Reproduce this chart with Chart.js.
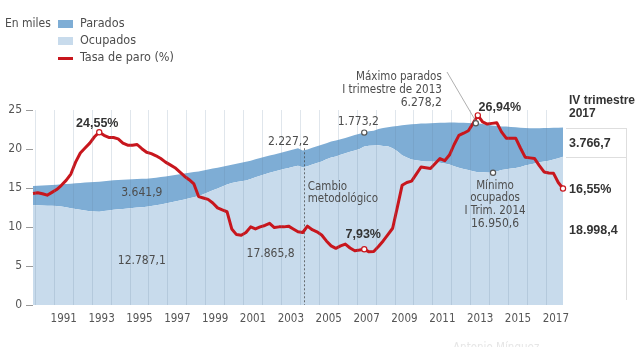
<!DOCTYPE html>
<html lang="es">
<head>
<meta charset="utf-8">
<title>Parados, ocupados y tasa de paro</title>
<script src="https://cdn.jsdelivr.net/npm/chart.js@4.4.1/dist/chart.umd.min.js"></script>
<style>
  html, body { margin: 0; padding: 0; background: #fff; }
  #wrap { position: relative; width: 640px; height: 347px; }
</style>
</head>
<body>
<div id="wrap"><canvas id="paroChart"></canvas></div>
<script>
// serie trimestral, empieza en IV trimestre 1989 (miles de personas)
const startYear = 1989;
const startQuarter = 4;

const ocupados = [
  12787.1, 12780, 12760, 12740, 12720, 12690, 12620, 12520, 12400, 12300,
  12200, 12100, 12030, 11980, 11960, 12050, 12130, 12200, 12260, 12320,
  12380, 12430, 12490, 12540, 12600, 12680, 12780, 12900, 13020, 13140,
  13270, 13400, 13540, 13680, 13810, 13980, 14200, 14450, 14700, 14950,
  15200, 15450, 15640, 15760, 15870, 15970, 16150, 16370, 16580, 16770,
  16940, 17100, 17270, 17430, 17580, 17730, 17865.8, 17650, 17780, 18000,
  18200, 18400, 18700, 18900, 19050, 19250, 19450, 19650, 19800, 20000,
  20330, 20410, 20450, 20480, 20400, 20350, 20100, 19700, 19200, 18900,
  18650, 18550, 18450, 18400, 18400, 18350, 18250, 18150, 18000, 17800,
  17600, 17450, 17300, 17150, 17030, 17010, 16980, 16950.6, 17100, 17300,
  17400, 17500, 17550, 17700, 17870, 18000, 18150, 18300, 18400, 18500,
  18650, 18800, 18998.4
];

const parados = [
  2463, 2500, 2560, 2620, 2680, 2740, 2850, 2990, 3150, 3300,
  3450, 3600, 3700, 3780, 3840, 3810, 3790, 3780, 3760, 3730,
  3700, 3680, 3650, 3641.9, 3600, 3580, 3550, 3500, 3450, 3420,
  3390, 3360, 3310, 3270, 3230, 3150, 3040, 2930, 2790, 2650,
  2530, 2410, 2340, 2360, 2380, 2400, 2350, 2310, 2270, 2250,
  2230, 2200, 2190, 2190, 2200, 2200, 2227.2, 2150, 2170, 2150,
  2150, 2150, 2050, 2050, 2050, 2000, 1950, 1950, 1980, 1950,
  1773.2, 1850, 1900, 2070, 2300, 2450, 2780, 3260, 3850, 4200,
  4530, 4670, 4810, 4880, 4900, 4980, 5110, 5230, 5400, 5600,
  5780, 5910, 6030, 6160, 6278.2, 6190, 6120, 6070, 5850, 5600,
  5470, 5330, 5230, 5030, 4810, 4660, 4500, 4360, 4280, 4200,
  4070, 3940, 3766.7
];

const tasaParo = [
  15.85, 15.95, 15.8, 15.6, 16.0, 16.4, 17.0, 17.7, 18.6, 20.3,
  21.6, 22.3, 23.0, 23.9, 24.55, 24.1, 23.8, 23.8, 23.6, 23.0,
  22.7, 22.7, 22.8, 22.2, 21.7, 21.5, 21.2, 20.8, 20.3, 19.9,
  19.5, 18.9, 18.3, 17.8, 17.2, 15.4, 15.2, 15.0, 14.5, 13.8,
  13.5, 13.25, 10.8, 10.0, 9.9, 10.3, 11.1, 10.8, 11.1, 11.3,
  11.6, 11.0, 11.1, 11.1, 11.2, 10.8, 10.4, 10.3, 11.2, 10.7,
  10.4, 9.95, 9.1, 8.4, 8.05, 8.4, 8.66, 8.1, 7.7, 7.8,
  7.93, 7.55, 7.6, 8.3, 9.1, 10.0, 10.9, 13.9, 17.0, 17.4,
  17.6, 18.6, 19.6, 19.5, 19.4, 20.1, 20.8, 20.5, 21.3, 22.8,
  24.1, 24.4, 24.75, 25.8, 26.94, 26.0, 25.7, 25.8, 25.9, 24.6,
  23.7, 23.7, 23.7, 22.3, 21.0, 20.9, 20.8, 19.8, 18.9, 18.75,
  18.7, 17.4, 16.55
];

const aniosEtiqueta = [1991, 1993, 1995, 1997, 1999, 2001, 2003, 2005, 2007, 2009, 2011, 2013, 2015, 2017];

// puntos destacados (posicion en la serie)
const iMaxTasa90 = 14;
const iCambio = 57;
const iMinParo = 70;
const iMaxParo = 94;
const iMinOcup = 97;

const trimestres = [];
for (let i = 0; i < ocupados.length; i++) {
  const k = startQuarter - 1 + i;
  trimestres.push({ anio: startYear + Math.floor(k / 4), q: (k % 4) + 1 });
}
const last = ocupados.length - 1;

const AZUL_OSC = "#7eadd5";
const AZUL_CLA = "#c8dbec";
const ROJO = "#c8161d";
const FONT_N = "'DejaVu Sans Condensed', 'Liberation Sans Narrow', Roboto, sans-serif";
const FONT_B = "'Liberation Sans', Arial, sans-serif";

function fmt(v, d) {
  return v.toFixed(d).replace(".", ",").replace(/\B(?=(\d{3})+(?!\d))/g, ".");
}

function texto(ctx, s, x, y, opt) {
  opt = opt || {};
  ctx.save();
  ctx.font = (opt.bold ? "bold " : "") + (opt.size || 11.5) + "px " + (opt.bold ? FONT_B : FONT_N);
  ctx.fillStyle = opt.color || (opt.bold ? "#333" : "#4d4d4d");
  ctx.textAlign = opt.align || "center";
  ctx.textBaseline = "middle";
  ctx.fillText(s, x, y);
  ctx.restore();
}

function marca(ctx, x, y, color) {
  ctx.save();
  ctx.beginPath();
  ctx.arc(x, y, 2.6, 0, Math.PI * 2);
  ctx.fillStyle = "#fff";
  ctx.fill();
  ctx.lineWidth = 1.2;
  ctx.strokeStyle = color;
  ctx.stroke();
  ctx.restore();
}

const anotaciones = {
  id: "anotaciones",
  afterDatasetDraw(chart, args) {
    if (args.index !== 0) return;
    const ctx = chart.ctx, x = chart.scales.x, y = chart.scales.y;
    const px = Math.round(x.getPixelForValue(iCambio)) + 1.5;
    ctx.save();
    ctx.strokeStyle = "rgba(70,70,70,0.75)";
    ctx.lineWidth = 1;
    ctx.setLineDash([2, 2]);
    ctx.beginPath();
    ctx.moveTo(px, y.getPixelForValue(ocupados[iCambio - 1] + parados[iCambio - 1]));
    ctx.lineTo(px, y.bottom);
    ctx.stroke();
    ctx.restore();
  },
  afterDraw(chart) {
    const ctx = chart.ctx, x = chart.scales.x, y = chart.scales.y, y1 = chart.scales.y1;
    const area = chart.chartArea;

    // leyenda
    texto(ctx, "En miles", 5, 24, { align: "left", size: 12 });
    ctx.fillStyle = AZUL_OSC; ctx.fillRect(58, 20, 15, 8);
    ctx.fillStyle = AZUL_CLA; ctx.fillRect(58, 37, 15, 8);
    ctx.fillStyle = ROJO; ctx.fillRect(58, 57, 15, 3);
    texto(ctx, "Parados", 80, 24, { align: "left", size: 12.5 });
    texto(ctx, "Ocupados", 80, 41, { align: "left", size: 12.5 });
    texto(ctx, "Tasa de paro (%)", 80, 58, { align: "left", size: 12.5 });

    // maximo 1993
    const xa = x.getPixelForValue(iMaxTasa90), ya = y1.getPixelForValue(tasaParo[iMaxTasa90]);
    texto(ctx, fmt(tasaParo[iMaxTasa90], 2) + "%", xa - 2, ya - 9, { bold: true, size: 12.5 });
    marca(ctx, xa, ya, ROJO);

    // etiquetas de las bandas
    texto(ctx, fmt(parados[23], 1), x.getPixelForValue(23), y.getPixelForValue(ocupados[23] + parados[23] / 2), { size: 12 });
    texto(ctx, fmt(ocupados[0], 1), x.getPixelForValue(23), y.getPixelForValue(5600), { size: 12 });
    texto(ctx, fmt(ocupados[iCambio - 1], 1), x.getPixelForValue(50) + 1, y.getPixelForValue(6600), { size: 12 });
    texto(ctx, fmt(parados[iCambio - 1], 1), x.getPixelForValue(54), y.getPixelForValue(20950), { size: 12 });

    const xc = x.getPixelForValue(iCambio) + 5;
    texto(ctx, "Cambio", xc, 187, { align: "left" });
    texto(ctx, "metodológico", xc, 199, { align: "left" });

    // minimo parados / tasa 2007
    const xm = x.getPixelForValue(iMinParo);
    const ym = y.getPixelForValue(ocupados[iMinParo] + parados[iMinParo]);
    texto(ctx, fmt(parados[iMinParo], 1), xm - 6, ym - 11, { size: 12 });
    marca(ctx, xm, ym, "#555");
    const ymt = y1.getPixelForValue(tasaParo[iMinParo]);
    texto(ctx, fmt(tasaParo[iMinParo], 2) + "%", xm - 1, ymt - 15, { bold: true, size: 12.5 });
    marca(ctx, xm, ymt, ROJO);

    // maximo parados 2013
    const xp = x.getPixelForValue(iMaxParo);
    const yp = y.getPixelForValue(ocupados[iMaxParo] + parados[iMaxParo]);
    ctx.save();
    ctx.strokeStyle = "#9a9a9a";
    ctx.lineWidth = 0.8;
    ctx.beginPath();
    ctx.moveTo(xp - 2, yp - 2);
    ctx.lineTo(447, 72);
    ctx.stroke();
    ctx.restore();
    marca(ctx, xp - 2, yp, "#555");
    texto(ctx, "Máximo parados", xp - 36, 77, { align: "right" });
    texto(ctx, "I trimestre de 2013", xp - 36, 90, { align: "right" });
    texto(ctx, fmt(parados[iMaxParo], 1), xp - 36, 103, { align: "right", size: 12 });

    const ypt = y1.getPixelForValue(tasaParo[iMaxParo]);
    marca(ctx, xp, ypt, ROJO);
    texto(ctx, fmt(tasaParo[iMaxParo], 2) + "%", xp + 22, ypt - 8, { bold: true, size: 12.5 });

    // minimo ocupados 2014
    const xo = x.getPixelForValue(iMinOcup);
    const yo = y.getPixelForValue(ocupados[iMinOcup]);
    marca(ctx, xo + 1, yo, "#555");
    texto(ctx, "Mínimo", xo + 3, 186);
    texto(ctx, "ocupados", xo + 3, 198);
    texto(ctx, "I Trim. 2014", xo + 3, 211);
    texto(ctx, fmt(ocupados[iMinOcup], 1), xo + 3, 224, { size: 12 });

    // ultimo dato
    const xl = x.getPixelForValue(last);
    const ytop = y.getPixelForValue(ocupados[last] + parados[last]);
    const ymid = y.getPixelForValue(ocupados[last]);
    const yl = y1.getPixelForValue(tasaParo[last]);
    ctx.save();
    ctx.strokeStyle = "#dedede";
    ctx.lineWidth = 1;
    ctx.beginPath();
    ctx.moveTo(area.right + 3, Math.round(ytop) + 1.5);
    ctx.lineTo(626.5, Math.round(ytop) + 1.5);
    ctx.moveTo(area.right + 3, Math.round(ymid) + 0.5);
    ctx.lineTo(626.5, Math.round(ymid) + 0.5);
    ctx.moveTo(626.5, Math.round(ytop) + 1);
    ctx.lineTo(626.5, 300);
    ctx.stroke();
    ctx.restore();
    marca(ctx, xl, yl, ROJO);
    const xr = area.right + 6;
    texto(ctx, "IV trimestre", xr, 101, { bold: true, size: 12, align: "left" });
    texto(ctx, "2017", xr, 114, { bold: true, size: 12, align: "left" });
    texto(ctx, fmt(parados[last], 1), xr, y.getPixelForValue(ocupados[last] + parados[last] / 2) + 1, { bold: true, size: 12.5, align: "left" });
    texto(ctx, fmt(tasaParo[last], 2) + "%", xr, yl + 1, { bold: true, size: 12.5, align: "left" });
    texto(ctx, fmt(ocupados[last], 1), xr, y.getPixelForValue(ocupados[last] / 2), { bold: true, size: 12.5, align: "left" });

    // firma
    texto(ctx, "Antonio Mínguez", 453, 348, { align: "left", color: "#e6e6e6" });
  }
};

new Chart(document.getElementById("paroChart"), {
  type: "line",
  data: {
    labels: trimestres.map(t => t.anio + "-T" + t.q),
    datasets: [
      {
        label: "Ocupados",
        data: ocupados,
        yAxisID: "y",
        backgroundColor: AZUL_CLA,
        borderWidth: 0,
        fill: "origin",
        pointRadius: 0,
        order: 1
      },
      {
        label: "Parados",
        data: parados,
        yAxisID: "y",
        backgroundColor: AZUL_OSC,
        borderWidth: 0,
        fill: "-1",
        pointRadius: 0,
        order: 1
      },
      {
        label: "Tasa de paro (%)",
        data: tasaParo,
        yAxisID: "y1",
        borderColor: ROJO,
        borderWidth: 3,
        borderJoinStyle: "round",
        fill: false,
        pointRadius: 0,
        tension: 0,
        order: 0
      }
    ]
  },
  options: {
    responsive: true,
    maintainAspectRatio: false,
    animation: false,
    layout: { padding: { top: 110, right: 77, left: 0, bottom: 0 } },
    plugins: {
      legend: { display: false },
      tooltip: { enabled: false }
    },
    scales: {
      x: {
        offset: false,
        border: { display: false },
        grid: {
          offset: true,
          z: 1,
          drawTicks: false,
          color: c => (c.tick && trimestres[c.index] && trimestres[c.index].q === 1) ? "rgba(100,130,160,0.2)" : "rgba(0,0,0,0)"
        },
        ticks: {
          autoSkip: false,
          maxRotation: 0,
          minRotation: 0,
          padding: 7,
          labelOffset: -2.4,
          color: "#555",
          font: { family: FONT_N, size: 11.5 },
          callback: (v, i) => (trimestres[i].q === 3 && aniosEtiqueta.includes(trimestres[i].anio)) ? String(trimestres[i].anio) : ""
        },
        afterFit: s => { s.height = 42; }
      },
      y: {
        stacked: true,
        min: 0,
        max: 25000,
        border: { display: false },
        grid: { drawOnChartArea: false, drawTicks: true, tickLength: 7, tickColor: "#9a9a9a" },
        ticks: {
          stepSize: 5000,
          padding: 4,
          color: "#555",
          font: { family: FONT_N, size: 12 },
          callback: v => v / 1000
        },
        afterFit: s => { s.width = 33; }
      },
      y1: {
        display: false,
        min: 0,
        max: 27.7
      }
    }
  },
  plugins: [anotaciones]
});
</script>
</body>
</html>
